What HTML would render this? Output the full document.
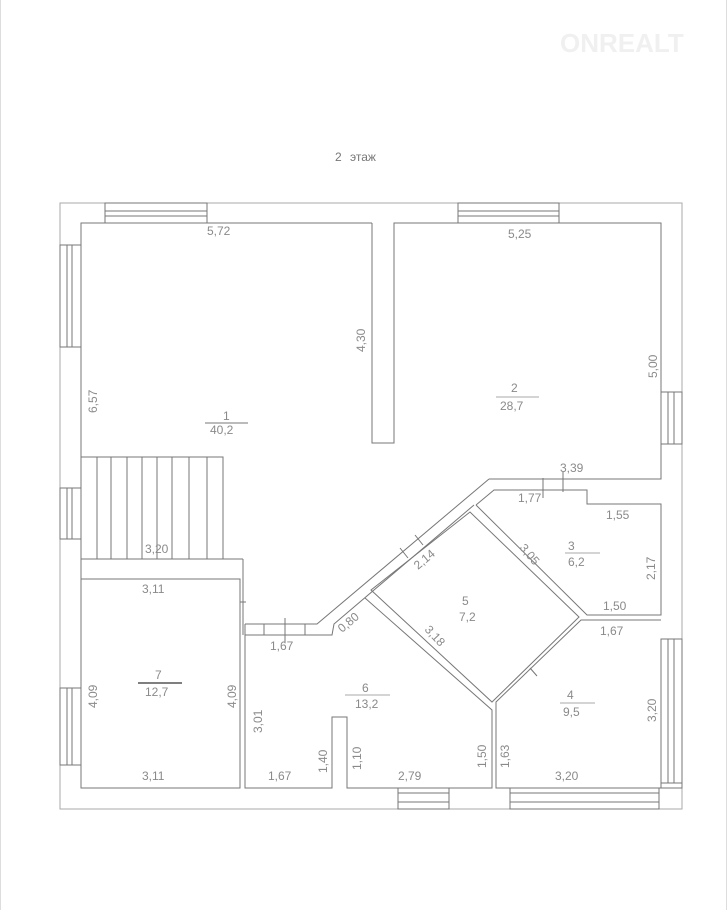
<!DOCTYPE html>
<html><head><meta charset="utf-8"><style>
html,body{margin:0;padding:0;background:#fff;width:727px;height:910px;overflow:hidden}
svg{display:block}
text{font-family:"Liberation Sans",sans-serif;font-size:12px;fill:#8a8a8a}
</style></head><body>
<svg width="727" height="910" viewBox="0 0 727 910" xmlns="http://www.w3.org/2000/svg">
<line x1="0.5" y1="0" x2="0.5" y2="910" stroke="#ddd"/>
<line x1="726.5" y1="0" x2="726.5" y2="910" stroke="#ddd"/>
<text x="560" y="52" style="font-size:26px;font-weight:bold;fill:#f0f0f0">ONREALT</text>
<text x="335" y="161" style="font-size:12px;fill:#777">2</text>
<text x="350" y="161" style="font-size:12px;fill:#777">этаж</text>
<g stroke="#777" stroke-width="1" fill="none">
<rect x="60" y="203" width="622" height="606" stroke="#aaa"/>
<polyline points="372,223 81,223 81,788 240,788 240,579 81,579"/>
<polyline points="372,223 372,443 394,443 394,223 661,223 661,479 489,479"/>
<rect x="105" y="203" width="102" height="20"/><line x1="105" y1="211" x2="207" y2="211"/><line x1="105" y1="216" x2="207" y2="216"/>
<rect x="458" y="203" width="101" height="20"/><line x1="458" y1="211" x2="559" y2="211"/><line x1="458" y1="216" x2="559" y2="216"/>
<rect x="60" y="245" width="21" height="102"/><line x1="67" y1="245" x2="67" y2="347"/><line x1="72" y1="245" x2="72" y2="347"/>
<rect x="60" y="488" width="21" height="51"/><line x1="67" y1="488" x2="67" y2="539"/><line x1="72" y1="488" x2="72" y2="539"/>
<rect x="60" y="688" width="21" height="77"/><line x1="67" y1="688" x2="67" y2="765"/><line x1="72" y1="688" x2="72" y2="765"/>
<rect x="661" y="392" width="21" height="52"/><line x1="668" y1="392" x2="668" y2="444"/><line x1="674" y1="392" x2="674" y2="444"/>
<rect x="661" y="639" width="21" height="144"/><line x1="668" y1="639" x2="668" y2="783"/><line x1="674" y1="639" x2="674" y2="783"/>
<rect x="661" y="783" width="21" height="5"/>
<rect x="398" y="788" width="51" height="21"/><line x1="398" y1="793" x2="449" y2="793"/><line x1="398" y1="802" x2="449" y2="802"/>
<rect x="510" y="788" width="149" height="21"/><line x1="510" y1="793" x2="659" y2="793"/><line x1="510" y1="802" x2="659" y2="802"/>
<polyline points="81,457 223,457 223,559"/>
<line x1="81" y1="559" x2="243" y2="559"/>
<g>
<line x1="97" y1="457" x2="97" y2="559"/><line x1="111" y1="457" x2="111" y2="559"/><line x1="127" y1="457" x2="127" y2="559"/><line x1="142" y1="457" x2="142" y2="559"/><line x1="157" y1="457" x2="157" y2="559"/><line x1="172" y1="457" x2="172" y2="559"/><line x1="189" y1="457" x2="189" y2="559"/><line x1="207" y1="457" x2="207" y2="559"/>
</g>
<line x1="243" y1="559" x2="243" y2="635"/><line x1="240" y1="602" x2="246" y2="602"/>
<polyline points="245,635 332,635 334,624 474,505"/>
<polyline points="245,624 317,624 489,479"/>
<line x1="245" y1="624" x2="245" y2="635"/>
<line x1="264" y1="624" x2="264" y2="635"/><line x1="285" y1="618" x2="285" y2="642"/><line x1="305" y1="624" x2="305" y2="635"/>
<line x1="400" y1="548" x2="408" y2="558"/><line x1="415" y1="535" x2="423" y2="545"/>
<polyline points="245,635 245,788 332,788 332,717 347,717 347,788 492,788 492,710 365,598"/>
<polygon points="371,590 470,512 579,617 492,702"/>
<polyline points="476,505 494,490 587,490 587,504 661,504 661,615 587,615 476,505"/>
<line x1="543" y1="478" x2="543" y2="498"/><line x1="563" y1="472" x2="563" y2="492"/>
<polyline points="661,620 581,620 496,702 496,788 661,788"/>
<line x1="530" y1="668" x2="537" y2="676"/>
</g>
<g>
<text x="207" y="235">5,72</text>
<text x="508" y="238">5,25</text>
<text x="0" y="0" transform="translate(365,352) rotate(-90)">4,30</text>
<text x="0" y="0" transform="translate(657,378) rotate(-90)">5,00</text>
<text x="0" y="0" transform="translate(97,413) rotate(-90)">6,57</text>
<text x="223" y="420">1</text><line x1="205" y1="423" x2="248" y2="423" stroke="#777"/><text x="210" y="434">40,2</text>
<text x="511" y="392">2</text><line x1="496" y1="397" x2="539" y2="397" stroke="#aaa"/><text x="500" y="410">28,7</text>
<text x="560" y="472">3,39</text>
<text x="518" y="502">1,77</text>
<text x="606" y="519">1,55</text>
<text x="568" y="550">3</text><line x1="565" y1="553" x2="600" y2="553" stroke="#aaa"/><text x="568" y="566">6,2</text>
<text x="0" y="0" transform="translate(655,580) rotate(-90)">2,17</text>
<text x="0" y="0" transform="translate(519,548) rotate(50)">3,05</text>
<text x="0" y="0" transform="translate(418,570) rotate(-40)">2,14</text>
<text x="603" y="610">1,50</text>
<text x="600" y="635">1,67</text>
<text x="145" y="553">3,20</text>
<text x="142" y="593">3,11</text>
<text x="462" y="605">5</text><text x="459" y="621">7,2</text>
<text x="0" y="0" transform="translate(342,633) rotate(-40)">0,80</text>
<text x="0" y="0" transform="translate(424,630) rotate(47)">3,18</text>
<text x="270" y="650">1,67</text>
<text x="155" y="679">7</text><line x1="138" y1="683" x2="182" y2="683" stroke="#555" stroke-width="1.5"/><text x="145" y="696">12,7</text>
<text x="0" y="0" transform="translate(97,708) rotate(-90)">4,09</text>
<text x="0" y="0" transform="translate(236,708) rotate(-90)">4,09</text>
<text x="362" y="692">6</text><line x1="345" y1="695" x2="390" y2="695" stroke="#aaa"/><text x="355" y="708">13,2</text>
<text x="0" y="0" transform="translate(262,733) rotate(-90)">3,01</text>
<text x="0" y="0" transform="translate(327,773) rotate(-90)">1,40</text>
<text x="0" y="0" transform="translate(361,770) rotate(-90)">1,10</text>
<text x="0" y="0" transform="translate(486,768) rotate(-90)">1,50</text>
<text x="0" y="0" transform="translate(509,768) rotate(-90)">1,63</text>
<text x="567" y="699">4</text><line x1="560" y1="703" x2="595" y2="703" stroke="#aaa"/><text x="563" y="716">9,5</text>
<text x="0" y="0" transform="translate(656,722) rotate(-90)">3,20</text>
<text x="142" y="780">3,11</text>
<text x="268" y="780">1,67</text>
<text x="398" y="780">2,79</text>
<text x="555" y="780">3,20</text>
</g>
</svg>
</body></html>
